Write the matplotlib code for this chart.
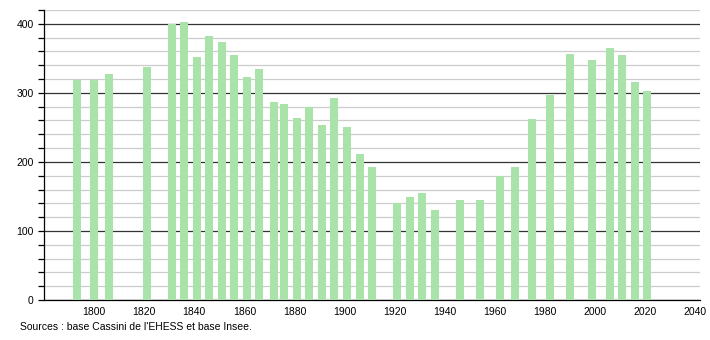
import matplotlib
matplotlib.use('Agg')
import matplotlib.pyplot as plt
from matplotlib.ticker import MultipleLocator

plt.rcParams['font.family'] = ['Liberation Sans', 'DejaVu Sans']

# Population par année de recensement
annees = [1793, 1800, 1806, 1821, 1831, 1836, 1841, 1846, 1851, 1856,
          1861, 1866, 1872, 1876, 1881, 1886, 1891, 1896, 1901, 1906,
          1911, 1921, 1926, 1931, 1936, 1946, 1954, 1962, 1968, 1975,
          1982, 1990, 1999, 2006, 2011, 2016, 2021]
population = [319, 319, 328, 338, 400, 402, 352, 383, 374, 355,
              323, 335, 287, 284, 263, 279, 254, 292, 250, 212,
              192, 140, 149, 155, 131, 145, 145, 180, 192, 262,
              297, 356, 348, 365, 355, 316, 302]

source = "Sources : base Cassini de l'EHESS et base Insee."

fig = plt.figure(figsize=(7.1, 3.4), dpi=100)
ax = fig.add_axes([0.062, 0.1176, 0.924, 0.853])

ax.bar(annees, population, width=3.2, color='#a9e3a9', zorder=3)

ax.set_xlim(1780, 2042)
ax.set_ylim(0, 420)
ax.xaxis.set_major_locator(MultipleLocator(20))
ax.set_xticks(range(1800, 2041, 20))
ax.yaxis.set_major_locator(MultipleLocator(100))
ax.yaxis.set_minor_locator(MultipleLocator(20))

ax.grid(axis='y', which='minor', color='#cccccc', linewidth=0.9, zorder=0)
ax.grid(axis='y', which='major', color='#333333', linewidth=0.9, zorder=1)

for s in ['top', 'right']:
    ax.spines[s].set_visible(False)
ax.spines['left'].set_linewidth(0.9)
ax.spines['bottom'].set_linewidth(0.9)

ax.tick_params(axis='x', length=0, labelsize=7.5, pad=5)
ax.tick_params(axis='y', which='major', length=4, width=0.9, labelsize=7.5)
ax.tick_params(axis='y', which='minor', length=4, width=0.9)

fig.text(20 / 710, 1 - 327 / 340, source, fontsize=7.5, va='center', ha='left')

fig.savefig('out.png', dpi=100)
